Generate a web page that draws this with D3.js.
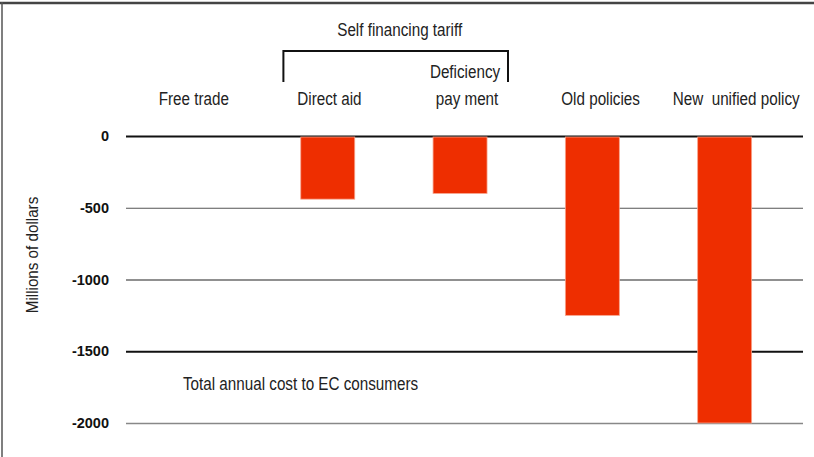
<!DOCTYPE html>
<html>
<head>
<meta charset="utf-8">
<script src="https://cdn.jsdelivr.net/npm/d3@7"></script>
<style>
  html, body { margin: 0; padding: 0; background: #fff; }
  svg { display: block; font-family: "Liberation Sans", Arial, sans-serif; }
</style>
</head>
<body>
<div id="chart"></div>
<script>
// Total annual cost to EC consumers under each policy (millions of dollars)
const categories = ["Free trade", "Direct aid", "Deficiency payment", "Old policies", "New unified policy"];
const labelLines = [["Free trade"], ["Direct aid"], ["Deficiency", "pay ment"], ["Old policies"], ["New  unified policy"]];
const costs = [0, -440, -400, -1250, -2000];
const yTicks = [0, -500, -1000, -1500, -2000];
const groupTitle = "Self financing tariff";
const groupMembers = ["Direct aid", "Deficiency payment"];
const yTitle = "Millions of dollars";
const note = "Total annual cost to EC consumers";

const W = 814, H = 457;
const svg = d3.select("#chart").append("svg").attr("width", W).attr("height", H);

// condensed text helper: narrow glyphs drawn with a horizontal squeeze
function label(parent, x, y, str, opts = {}) {
  const sx = opts.sx || 0.87;
  return parent.append("text")
    .attr("transform", `translate(${x},${y})${opts.rotate ? ` rotate(${opts.rotate})` : ""} scale(${sx},1)`)
    .attr("text-anchor", opts.anchor || "middle")
    .attr("font-size", opts.size || 17.5)
    .attr("fill", "#222")
    .style("white-space", "pre")
    .text(str);
}

// frame: top rule and left rule
svg.append("line").attr("x1", 0).attr("x2", W).attr("y1", 3).attr("y2", 3)
  .attr("stroke", "#444").attr("stroke-width", 2.5);
svg.append("line").attr("x1", 2).attr("x2", 2).attr("y1", 2).attr("y2", H)
  .attr("stroke", "#555").attr("stroke-width", 1.5);

const gridX0 = 126, gridX1 = 803;
// bars sit in a slightly narrower band layout than the column labels
const x = d3.scaleBand().domain(categories).range([129.3, 790.8])
  .paddingInner(0.592).paddingOuter(0.296);
const xLab = d3.scaleBand().domain(categories).range([gridX0, 804]);
const y = d3.scaleLinear().domain([0, -2000]).range([136, 423]);

const gridStyle = {
  "0": { c: "#111", w: 2 },
  "-500": { c: "#555", w: 1.2 },
  "-1000": { c: "#222", w: 1.2 },
  "-1500": { c: "#111", w: 2 },
  "-2000": { c: "#888", w: 1.5 }
};

// horizontal gridlines built from a d3 axis
const gridAxis = d3.axisRight(y).tickValues(yTicks).tickSize(gridX1 - gridX0).tickFormat("");
const g = svg.append("g").attr("transform", `translate(${gridX0},0)`).call(gridAxis);
g.select(".domain").remove();
g.selectAll(".tick line")
  .attr("stroke", d => gridStyle[String(d)].c)
  .attr("stroke-width", d => gridStyle[String(d)].w);

// tick labels
svg.append("g").selectAll("text").data(yTicks).join("text")
  .attr("x", 109).attr("y", d => y(d)).attr("dy", "0.35em")
  .attr("text-anchor", "end").attr("font-size", 14.5).attr("font-weight", "bold")
  .attr("fill", "#111").text(d => d);

// bars
svg.append("g").selectAll("rect").data(categories.map((c, i) => ({ c, v: costs[i] })).filter(d => d.v < 0))
  .join("rect")
  .attr("x", d => x(d.c)).attr("width", x.bandwidth())
  .attr("y", y(0) + 1).attr("height", d => y(d.v) - y(0) - 1)
  .attr("fill", "#ee2e00").attr("stroke", "#f7a48c").attr("stroke-width", 0.8);

// category labels
const lab = svg.append("g");
categories.forEach((c, i) => {
  const lines = labelLines[i];
  const cx = xLab(c) + xLab.bandwidth() / 2;
  lines.forEach((t, j) => {
    label(lab, cx + (j === 1 ? 2 : 0), 105 - (lines.length - 1 - j) * 27, t);
  });
});

// bracket for the self financing tariff group
const bx0 = xLab(groupMembers[0]) + xLab.bandwidth() / 2 - 46;
const bx1 = xLab(groupMembers[1]) + xLab.bandwidth() / 2 + 43;
svg.append("path")
  .attr("d", `M${bx0},82 V51 H${bx1} V82`)
  .attr("fill", "none").attr("stroke", "#111").attr("stroke-width", 2);
label(svg, (bx0 + bx1) / 2 + 4, 36, groupTitle);

// axis title
label(svg, 38, 255, yTitle, { rotate: -90, sx: 0.95, size: 16 });

// note
label(svg, 183, 390, note, { anchor: "start" });
</script>
</body>
</html>
